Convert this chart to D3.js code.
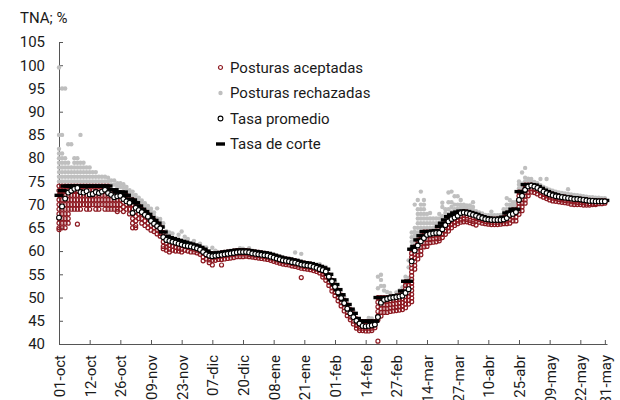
<!DOCTYPE html>
<html>
<head>
<meta charset="utf-8">
<script src="https://cdn.jsdelivr.net/npm/d3@7"></script>
<style>
    body { margin: 0; background: #fff; }
    svg { font-family: Roboto, "Noto Sans", sans-serif; }
</style>
</head>
<body>
<svg id="drawing_region"></svg>
<script>
// eje x: una categoria por rueda, etiqueta cada 10 ruedas
const etiquetas = ["01-oct","12-oct","26-oct","09-nov","23-nov","07-dic","20-dic","08-ene","21-ene","01-feb",
                   "14-feb","27-feb","14-mar","27-mar","10-abr","25-abr","09-may","22-may","31-may"];
const etiquetaDia = [0,10,20,30,40,50,60,70,80,90,100,110,120,130,140,150,160,170,178];
const yTicks = [40,45,50,55,60,65,70,75,80,85,90,95,100,105];
const leyenda = ["Posturas aceptadas","Posturas rechazadas","Tasa promedio","Tasa de corte"];

// tasa promedio por rueda
const promedio = [
    67.2,69.6,71.3,72.6,73.0,73.4,73.6,72.7,72.6,72.9,   // 0
    72.2,72.3,72.7,72.5,72.8,73.2,72.5,72.1,71.6,71.8,   // 10
    71.9,71.2,70.7,70.4,68.2,69.3,68.8,68.4,67.8,67.4,   // 20
    66.5,65.9,65.4,64.9,63.0,62.4,62.2,62.0,61.8,61.6,   // 30
    61.4,61.2,61.1,61.0,60.8,60.6,60.3,59.8,59.3,59.0,   // 40
    58.9,59.0,59.1,59.2,59.3,59.4,59.5,59.6,59.7,59.8,   // 50
    59.8,59.8,59.7,59.5,59.4,59.3,59.2,59.1,59.0,58.8,   // 60
    58.6,58.4,58.2,58.0,57.9,57.8,57.6,57.5,57.3,57.1,   // 70
    57.0,56.9,56.8,56.6,56.4,56.1,55.9,55.6,54.5,53.5,   // 80
    52.3,51.1,49.9,48.8,47.6,46.6,45.8,45.0,44.4,43.9,   // 90
    43.8,43.9,44.0,44.2,45.8,48.9,49.5,49.7,49.9,50.0,   // 100
    50.1,50.2,50.4,51.0,51.8,57.8,60.1,61.2,62.1,62.8,   // 110
    63.5,63.7,63.8,63.9,63.9,64.7,65.6,66.4,66.9,67.2,   // 120
    67.6,68.2,68.3,68.2,68.0,67.8,67.6,67.3,67.1,66.9,   // 130
    66.8,66.7,66.7,66.7,66.7,66.8,67.1,67.8,68.0,68.4,   // 140
    71.0,71.9,73.2,73.9,74.1,73.9,73.6,73.2,72.8,72.5,   // 150
    72.2,72.0,71.8,71.7,71.6,71.5,71.4,71.3,71.2,71.2,   // 160
    71.1,71.0,70.9,70.8,70.8,70.7,70.7,70.7,70.7         // 170
];

// tasa de corte por rueda
const corte = [
    72.0,73.0,74.0,74.0,74.0,74.0,74.0,74.0,74.0,74.0,   // 0
    74.0,74.0,74.0,74.0,74.0,74.0,74.0,73.2,73.2,72.7,   // 10
    72.7,72.7,72.0,71.2,71.0,70.4,69.7,69.0,68.5,67.9,   // 20
    67.2,66.6,66.0,65.2,64.1,63.2,62.9,62.7,62.5,62.3,   // 30
    62.1,61.9,61.7,61.5,61.3,61.1,60.8,60.4,60.0,59.6,   // 40
    59.5,59.5,59.6,59.7,59.8,59.9,60.0,60.1,60.2,60.2,   // 50
    60.2,60.2,60.1,60.0,59.9,59.8,59.7,59.6,59.5,59.3,   // 60
    59.1,58.9,58.7,58.5,58.4,58.3,58.1,58.0,57.8,57.6,   // 70
    57.5,57.4,57.3,57.1,56.9,56.7,56.4,56.1,55.0,53.8,   // 80
    52.8,51.7,50.6,49.5,48.5,47.5,46.6,45.5,44.9,44.9,   // 90
    44.9,44.9,44.9,44.9,50.0,50.0,50.0,50.0,50.1,50.3,   // 100
    50.4,50.5,51.4,53.5,53.5,60.4,61.0,62.4,63.3,64.2,   // 110
    64.2,64.2,64.3,64.4,65.3,66.0,66.7,67.4,67.8,68.2,   // 120
    68.4,68.6,68.6,68.5,68.3,68.1,67.9,67.6,67.4,67.2,   // 130
    67.1,67.0,67.0,67.0,67.1,67.3,68.2,68.4,69.0,69.0,   // 140
    72.8,72.8,74.3,74.3,74.3,74.2,73.9,73.5,73.1,72.8,   // 150
    72.5,72.3,72.1,71.9,71.8,71.7,71.6,71.5,71.4,71.3,   // 160
    71.3,71.2,71.1,71.0,71.0,70.9,70.9,70.9,70.9         // 170
];

// posturas aceptadas (tasas ofrecidas) por rueda
const aceptadas = [
    [74,73,72,71,70,69,68,67,66,65,64.6], [74,73,72,71,70,69,68,67,66,65], [74,73,72,71,70,69,68,67,66,65],
    [74,73,72,71,70,69,68,67,66], [74,73,72,71,70,69], [74,73,72,71,70,69], [74,73,72,71,70,69,65.8],
    [74,73,72,71,70,69], [74,73,72,71,70], [74,73,72,71,70,69],                                   // 0
    [74,73,72,71,70,69], [74,73,72,71,70], [74,73,72,71,70,69], [74,73,72,71,70,69], [74,73,72,71,70],
    [74,73,72,71,70,69], [74,73,72,71,70,69], [73,72,71,70,69], [73,72,71,70,69], [72.5,72,71,70,69,68.5], // 10
    [72.5,72,71,70,69], [72.5,71.5,70.5,69.5,68.5], [72,71,70,69], [71,70,69,68], [71,70,69,68,67,66,65],
    [70.4,69.5,68.5,67.5,66.5,65.5,65], [69.7,69,68,67], [69,68,67,66], [68.5,67.5,66.5,65.5], [67.9,67,66,65], // 20
    [67.2,66.5,65.5,64.5], [66.6,65.8,65,64.2], [66,65.2,64.5,63.7], [65.2,64.5,63.8,63.2], [64,63,62,61,60.5],
    [63,62.3,61.6,60.9,60.2], [62.8,62,61.2,60.4,59.8], [62.6,61.8,61,60.2], [62.4,61.6,60.8,60], [62.2,61.4,60.6,60], // 30
    [62,61.2,60.4,59.8], [61.8,61,60.2], [61.6,60.8,60], [61.4,60.6,59.8], [61.2,60.4,59.8],
    [61,60.2,59.6], [60.7,60,59.3], [60.3,59.5,58.7,57.9], [59.9,59.1,58.3], [59.5,58.8,58.1,57.5],   // 40
    [59.4,58.7,58,57], [59.4,58.7,58], [59.5,58.8,58.2], [59.6,58.9,58.2,57], [59.7,59,58.3],
    [59.8,59.1,58.4], [59.9,59.2,58.5], [60,59.3,58.6], [60.1,59.4,58.8], [60.1,59.4,58.8],            // 50
    [60.1,59.4,58.8], [60.1,59.4,58.9], [60,59.3,58.8], [59.9,59.2,58.7], [59.8,59.1,58.6],
    [59.7,59,58.5], [59.6,58.9,58.4], [59.5,58.8,58.3], [59.4,58.7,58.2], [59.2,58.5,58],              // 60
    [59,58.3,57.8], [58.8,58.1,57.6], [58.6,57.9,57.4], [58.4,57.7,57.2], [58.3,57.6,57.1],
    [58.2,57.5,57], [58,57.3,56.8], [57.9,57.2,56.7], [57.7,57,56.5], [57.5,56.8,56.3,54.3],           // 70
    [57.4,56.7,56.2], [57.3,56.6,56.1], [57.2,56.5,56], [57,56.3,55.8], [56.8,56.1,55.6],
    [56.6,55.9,55.3], [56.3,55.6,55,54.4], [56,55.2,54.4,53.7], [54.9,54.1,53.3,52.6], [53.7,52.9,52.1,51.4], // 80
    [52.7,51.9,51.1,50.4], [51.6,50.8,50,49.3], [50.5,49.7,48.9,48.2], [49.4,48.6,47.8,47.1], [48.4,47.6,46.8,46.1],
    [47.4,46.6,45.8,45.2], [46.5,45.7,44.9,44.3], [45.4,44.7,44,43.4], [44.8,44.1,43.4,42.9], [44.8,44.1,43.4,42.9], // 90
    [44.8,44.1,43.4,42.8], [44.8,44.1,43.4,42.8], [44.8,44.1,43.4,42.9], [44.8,44.1,43.5], [50,49,48,47,46,45.2,40.6],
    [50,49.2,48.4,47.6,46.8,46], [50,49.2,48.4,47.6,46.8], [50,49.2,48.4,47.6,46.8], [50.1,49.3,48.5,47.7,47], [50.2,49.4,48.6,47.8,47.1], // 100
    [50.3,49.5,48.7,47.9,47.2], [50.4,49.6,48.8,48,47.3], [51.3,50.5,49.7,48.9,48.1,47.4], [53.4,52.6,51.8,51,50.2,49.4,48.6,47.8], [53.4,52.6,51.8,51,50.2,49.4,48.6],
    [60.3,59.5,58.7,57.9,57.1,56.3,55.5,54.7,53.9,53.1,52.3,51.5,50.7,49.9,49.1], [60.9,60.1,59.3,58.5,57.7,56.9,56.1],
    [62.3,61.5,60.7,59.9,59.1,58.3], [63.2,62.4,61.6,60.8,60,59.2], [64.1,63.3,62.5,61.7,60.9],        // 110
    [64.1,63.3,62.5,61.7,61], [64.1,63.3,62.5,61.8], [64.2,63.4,62.6,61.9], [64.3,63.5,62.7,62], [64.3,63.5,62.7,62.2],
    [65.2,64.4,63.6,62.9], [65.9,65.1,64.3,63.6], [66.6,65.8,65,64.3], [67.3,66.5,65.7,65], [67.7,66.9,66.1,65.5], // 120
    [68.1,67.3,66.5,65.9], [68.3,67.5,66.7,66.2], [68.5,67.7,66.9,66.3], [68.4,67.6,66.8,66.3], [68.2,67.4,66.6,66.1],
    [68,67.2,66.4,65.9], [67.8,67,66.4,65.6], [67.5,66.8,66.2], [67.3,66.6,66], [67.1,66.4,65.9],        // 130
    [67,66.3,65.8], [66.9,66.2,65.7], [66.9,66.2,65.7], [66.9,66.2,65.7], [67,66.3,65.8],
    [67.2,66.5,65.9], [68.1,67.3,66.5,65.9], [68.3,67.5,66.7,66], [68.9,68.1,67.3,66.5], [68.9,68.1,67.3,66.5], // 140
    [72.7,71.9,71.1,70.3,69.5,68.7,67.9], [72.7,71.9,71.1,70.3,69.5,68.7], [74.2,73.4,72.6,71.8,71,70.3], [74.2,73.4,72.6,71.9], [74.2,73.4,72.7],
    [74.1,73.3,72.6], [73.8,73,72.3], [73.4,72.6,71.9], [73,72.2,71.6], [72.7,71.9,71.3],               // 150
    [72.4,71.6,71], [72.2,71.4,70.8], [72,71.3,70.7], [71.8,71.1,70.6], [71.7,71,70.5],
    [71.6,70.9,70.4], [71.5,70.8,70.3], [71.4,70.7,70.1], [71.3,70.6,70], [71.2,70.5,70],              // 160
    [71.2,70.5,70], [71.1,70.4,69.9], [71,70.3,69.9], [70.9,70.2,69.9], [70.9,70.3,70],
    [70.8,70.2,70], [70.8,70.2], [70.8,70.2], [70.8,70.3]                                              // 170
];

// posturas rechazadas por rueda
const rechazadas = [
    [75,76,77,78,79,80,81,82,85,99.5], [75,76,77,78,79,80,81,85,95], [75,76,77,78,79,80,95],
    [75,76,77,78,79,83], [75,76,77,78,83], [75,76,77,78,79,80], [75,76,77,78,79,80],
    [75,76,77,78,79,85], [75,76,77,78,79], [75,76,77,78],                                   // 0
    [75,76,77,78], [75,76,77], [75,76,77], [75,76], [75,76], [75,76], [75,75.8], [74.3,75.2], [74.3,75.2], [73.8,74.6], // 10
    [73.8,74.6], [73.6,74.4], [73,73.8], [72.3,73.1], [72,72.8], [71.4,72.1], [70.8,71.5], [70.2,70.9], [69.6,70.3], [69,69.7], // 20
    [68.4,69.1], [67.6,68.3], [67,69.2], [66.2,66.9], [65.2,66], [64.3], [64], [63.8], [], [63.5],   // 30
    [64.2], [63.1], [62.6], [], [62.2], [], [61.6], [], [60.8], [],                                    // 40
    [60.7], [60.1], [], [], [], [], [], [], [], [60.6],                                               // 50
    [60.5], [], [60.6], [], [], [], [], [], [], [],                                                    // 60
    [], [], [], [], [], [], [], [59.7], [], [59.4],                                                    // 70
    [], [], [], [], [], [57.2], [], [56.6], [], [],                                                    // 80
    [53.4], [], [], [50.2], [], [], [47.2], [], [], [],                                                // 90
    [], [45.6], [45.5], [], [52,54.5], [52.5,53.8,54.9], [51.5,52.5], [51.2], [51], [],                // 100
    [51.1], [51.5], [52.2], [52.5,54.5], [54.2,56.5,58], [61,62,63,64], [61.7,62.5,63.3,64.1,65,70],
    [63,64,65,66,67,68,69,71], [64,65,66,67,68,69,70,72.8], [65,66,67,68,69,70,71],                   // 110
    [65,66,67,68], [65,66,67,68.2], [65,66,67], [65,66,67], [66,67,68],
    [66.7,67.5,69.5,70.4], [67.4,68.2,69], [68,69,70.5,72.6], [68.5,69.5,70.5,72.8], [69,70,71.8],     // 120
    [69.2,70,71.8], [69.3,70,71], [69.3,70], [69.2,69.8], [69,69.8],
    [68.8,69.5,70.5], [68.6], [68.3], [68.1], [67.8],                                                  // 130
    [67.7], [67.7,68.5], [67.7], [67.7], [67.8], [68,69], [69,70,71.4], [69.2,70,71], [69.8,70.5], [69.8,70.6], // 140
    [73.5,74.3,75], [73.5,74.5,76.9], [75,75.8,77.9], [75,75.6], [75,75.5], [74.9], [74.6], [74.2,75.5], [73.8], [73.5,75.5], // 150
    [73.2], [73], [72.8], [72.6], [72.5], [72.4], [72.3,73.3], [72.2], [72.1], [72],                   // 160
    [71.9], [71.8], [71.7], [71.6], [71.6], [71.5], [71.5], [71.4], [71.4]                              // 170
];

var config = {
    parent: '#drawing_region',
    width: 620,
    height: 400,
    margin: {top:42, right:13, bottom:56, left:59}
};

class Subasta {

    constructor( config ) {
        this.config = config;
        this.init();
    }

    init() {
        let self = this;

        self.svg = d3.select( self.config.parent )
            .attr('width', self.config.width)
            .attr('height', self.config.height);

        self.chart = self.svg.append('g')
            .attr('transform', `translate(${self.config.margin.left}, ${self.config.margin.top})`);

        self.inner_width = self.config.width - self.config.margin.left - self.config.margin.right;
        self.inner_height = self.config.height - self.config.margin.top - self.config.margin.bottom;

        self.xscale = d3.scaleLinear()
            .domain( [0, 178.7] )
            .range( [0, self.inner_width] );

        self.yscale = d3.scaleLinear()
            .domain( [40, 105] )
            .range( [self.inner_height, 0] );

        self.xaxis = d3.axisBottom( self.xscale )
            .tickValues( etiquetaDia )
            .tickSize( -4 )
            .tickSizeOuter( 0 )
            .tickFormat( '' );

        self.yaxis = d3.axisLeft( self.yscale )
            .tickValues( yTicks )
            .tickSize( -4 )
            .tickSizeOuter( 0 )
            .tickPadding( 14 );
    }

    render() {
        let self = this;
        const x = self.xscale, y = self.yscale;

        // ejes
        const xg = self.chart.append('g')
            .attr('transform', `translate(0, ${self.inner_height})`)
            .call( self.xaxis );
        const yg = self.chart.append('g')
            .call( self.yaxis );
        [xg, yg].forEach( g => {
            g.selectAll('.domain, .tick line').attr('stroke', '#555');
            g.attr('font-family', null).attr('font-size', 15).attr('color', '#1a1a1a');
        });

        self.chart.selectAll('.xlab')
            .data( etiquetas )
            .enter()
            .append('text')
            .attr('class', 'xlab')
            .attr('transform', (d, i) => `translate(${x(etiquetaDia[i]) + 6}, ${self.inner_height + 11}) rotate(-90)`)
            .attr('text-anchor', 'end')
            .attr('font-size', 15)
            .attr('fill', '#1a1a1a')
            .text( d => d );

        self.svg.append('text')
            .attr('x', 20)
            .attr('y', 23)
            .attr('font-size', 15)
            .attr('fill', '#1a1a1a')
            .text( 'TNA; %' );

        // marcas
        const rech = rechazadas.flatMap( (vals, i) => vals.map( v => ({d: i, v: v}) ) );
        const acep = aceptadas.flatMap( (vals, i) => vals.map( v => ({d: i, v: v}) ) );

        self.chart.append('g').selectAll('circle')
            .data( rech )
            .enter()
            .append('circle')
            .attr('cx', p => x(p.d))
            .attr('cy', p => y(p.v))
            .attr('r', 2.2)
            .attr('fill', '#bfbfbf');

        self.chart.append('g').selectAll('circle')
            .data( acep )
            .enter()
            .append('circle')
            .attr('cx', p => x(p.d))
            .attr('cy', p => y(p.v))
            .attr('r', 2)
            .attr('fill', 'none')
            .attr('stroke', '#8e1a22')
            .attr('stroke-width', 1.2);

        self.chart.append('g').selectAll('rect')
            .data( corte )
            .enter()
            .append('rect')
            .attr('x', (v, i) => x(i) - 4.5)
            .attr('y', v => y(v) - 1.7)
            .attr('width', 9)
            .attr('height', 3.4)
            .attr('fill', '#000');

        self.chart.append('g').selectAll('circle')
            .data( promedio )
            .enter()
            .append('circle')
            .attr('cx', (v, i) => x(i))
            .attr('cy', v => y(v))
            .attr('r', 2.4)
            .attr('fill', '#fff')
            .attr('stroke', '#000')
            .attr('stroke-width', 1.1);

        // leyenda
        const leg = self.svg.append('g')
            .attr('transform', 'translate(220.5, 67.5)');
        const fila = leg.selectAll('g')
            .data( leyenda )
            .enter()
            .append('g')
            .attr('transform', (d, i) => `translate(0, ${i * 25.5})`);
        fila.append('text')
            .attr('x', 9.5)
            .attr('dy', '0.35em')
            .attr('font-size', 15)
            .attr('fill', '#1a1a1a')
            .text( d => d );
        leg.append('circle').attr('r', 2).attr('fill', 'none').attr('stroke', '#8e1a22').attr('stroke-width', 1.2);
        leg.append('circle').attr('cy', 25.5).attr('r', 2.2).attr('fill', '#bfbfbf');
        leg.append('circle').attr('cy', 51).attr('r', 2.4).attr('fill', '#fff').attr('stroke', '#000').attr('stroke-width', 1.1);
        leg.append('rect').attr('x', -4.5).attr('y', 76.5 - 1.7).attr('width', 9).attr('height', 3.4).attr('fill', '#000');
    }
}

const subasta = new Subasta( config );
subasta.render();
</script>
</body>
</html>
